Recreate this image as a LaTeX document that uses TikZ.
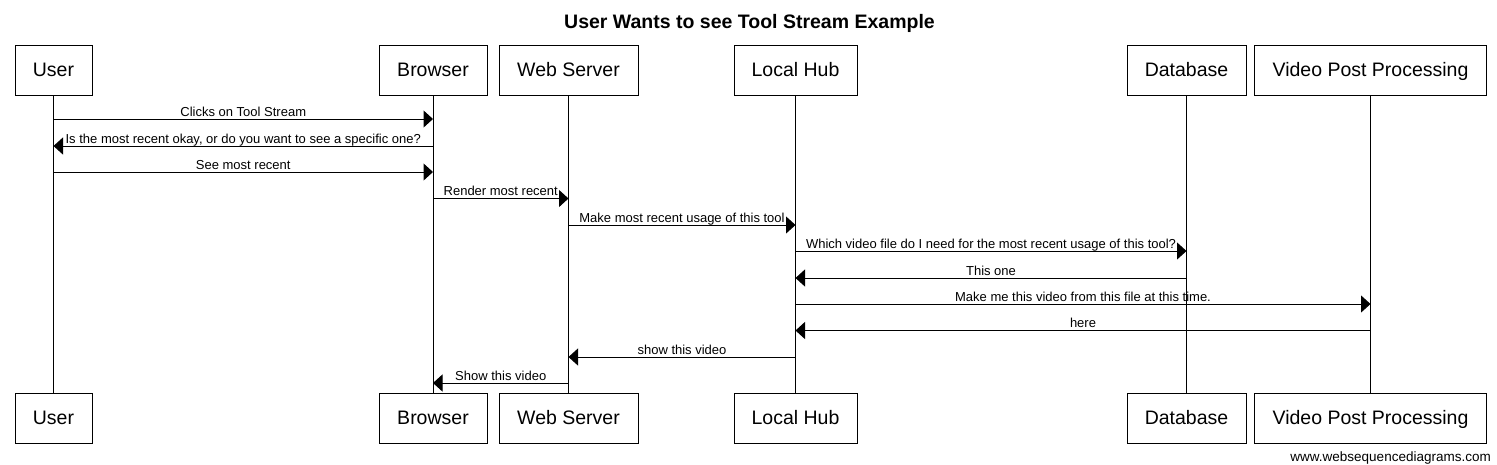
\documentclass[tikz,border=0pt]{standalone}
\usepackage{fontspec}
\setmainfont{Liberation Sans}
\usetikzlibrary{arrows.meta}
\begin{document}
\begin{tikzpicture}[x=1pt,y=-1pt,
  actor/.style={draw,line width=1pt,minimum height=50pt,inner sep=0pt,
    font=\fontsize{19.5}{22}\selectfont,text height=13.5pt,text depth=0pt},
  life/.style={line width=1pt},
  msg/.style={line width=1pt,-{Triangle[length=9.5pt,width=17pt]}},
  lbl/.style={font=\fontsize{13}{15}\selectfont,anchor=base,inner sep=0pt,yshift=2.8pt}]
\useasboundingbox (0,0) rectangle (1497,464);
% title
\node[font=\bfseries\fontsize{19.5}{22}\selectfont,anchor=base,inner sep=0pt] (title) at (749.5,28.5) {User Wants to see Tool Stream Example};
% top participants
\node[actor,minimum width=77pt]  (uT) at (53.5,70) {User};
\node[actor,minimum width=108pt] (bT) at (433,70) {Browser};
\node[actor,minimum width=139pt] (wT) at (568.5,70) {Web Server};
\node[actor,minimum width=123pt] (lT) at (795.5,70) {Local Hub};
\node[actor,minimum width=119pt] (dT) at (1186.5,70) {Database};
\node[actor,minimum width=232pt] (vT) at (1370.5,70) {Video Post Processing};
% bottom participants
\node[actor,minimum width=77pt]  (uB) at (53.5,418) {User};
\node[actor,minimum width=108pt] (bB) at (433,418) {Browser};
\node[actor,minimum width=139pt] (wB) at (568.5,418) {Web Server};
\node[actor,minimum width=123pt] (lB) at (795.5,418) {Local Hub};
\node[actor,minimum width=119pt] (dB) at (1186.5,418) {Database};
\node[actor,minimum width=232pt] (vB) at (1370.5,418) {Video Post Processing};
% lifelines
\foreach \p in {u,b,w,l,d,v} \draw[life] (\p T.south) -- (\p B.north);
% message rows
\coordinate (r1) at (0,119);
\coordinate (r2) at (0,146);
\coordinate (r3) at (0,172);
\coordinate (r4) at (0,198.5);
\coordinate (r5) at (0,225);
\coordinate (r6) at (0,251);
\coordinate (r7) at (0,278);
\coordinate (r8) at (0,304);
\coordinate (r9) at (0,330.5);
\coordinate (r10) at (0,357);
\coordinate (r11) at (0,383);
\draw[msg] (uT |- r1) -- (bT |- r1) node[lbl,midway] (t1) {Clicks on Tool Stream};
\draw[msg] (bT |- r2) -- (uT |- r2) node[lbl,midway] (t2) {Is the most recent okay, or do you want to see a specific one?};
\draw[msg] (uT |- r3) -- (bT |- r3) node[lbl,midway] (t3) {See most recent};
\draw[msg] (bT |- r4) -- (wT |- r4) node[lbl,midway] (t4) {Render most recent};
\draw[msg] (wT |- r5) -- (lT |- r5) node[lbl,midway] (t5) {Make most recent usage of this tool};
\draw[msg] (lT |- r6) -- (dT |- r6) node[lbl,midway] (t6) {Which video file do I need for the most recent usage of this tool?};
\draw[msg] (dT |- r7) -- (lT |- r7) node[lbl,midway] (t7) {This one};
\draw[msg] (lT |- r8) -- (vT |- r8) node[lbl,midway] (t8) {Make me this video from this file at this time.};
\draw[msg] (vT |- r9) -- (lT |- r9) node[lbl,midway] (t9) {here};
\draw[msg] (lT |- r10) -- (wT |- r10) node[lbl,midway] (t10) {show this video};
\draw[msg] (wT |- r11) -- (bT |- r11) node[lbl,midway] (t11) {Show this video};
% footer
\node[font=\fontsize{13.5}{15}\selectfont,anchor=base east,inner sep=0pt] (foot) at (1491,461) {www.websequencediagrams.com};
\end{tikzpicture}
\end{document}
